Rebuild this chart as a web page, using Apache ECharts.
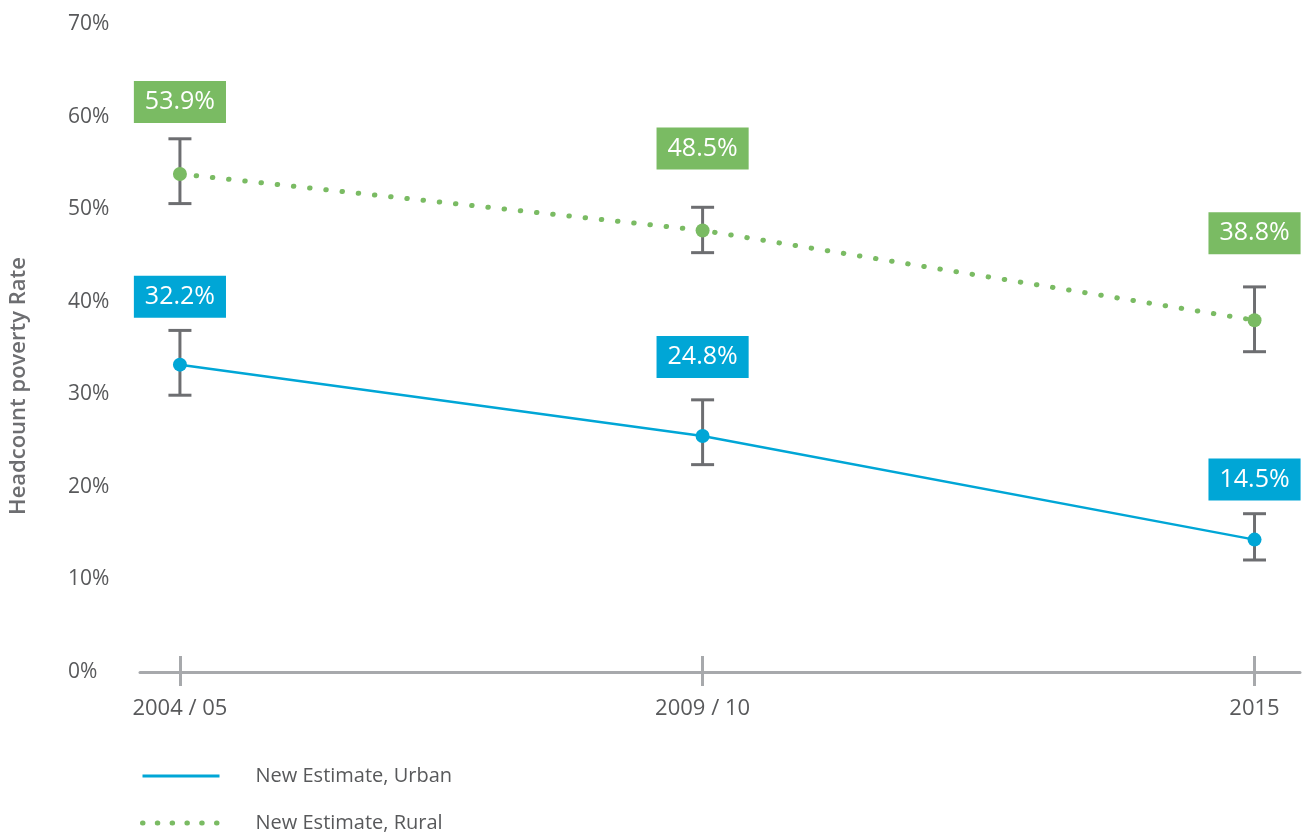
<!DOCTYPE html>
<html><head><meta charset="utf-8">
<script src="https://cdn.jsdelivr.net/npm/echarts@6/dist/echarts.min.js"></script>
<style>html,body{margin:0;padding:0;background:#fff}#c{width:1306px;height:832px}</style>
</head><body><div id="c"></div>
<script>
// ---- data ----
const periods = ['2004 / 05', '2009 / 10', '2015'];
const surveyTime = [2004.5, 2009.5, 2014.78];
const urbanRate = [33.2, 25.5, 14.3];
const urbanLow = [29.9, 22.4, 12.1];
const urbanHigh = [36.9, 29.4, 17.1];
const urbanLabel = ['32.2%', '24.8%', '14.5%'];
const ruralRate = [53.8, 47.7, 38.0];
const ruralLow = [50.6, 45.3, 34.6];
const ruralHigh = [57.6, 50.2, 41.6];
const ruralLabel = ['53.9%', '48.5%', '38.8%'];
const yTickStep = 10, yMax = 70;

// ---- styles ----
const BLUE = '#00a6d6', GREEN = '#7abb63', BAR = '#6d6e71', AXIS = '#a7a9ac', TXT = '#58595b';
const urbanLift = [68, 79, 60];
const ruralLift = [72, 82, 87];
const FONT = 'Open Sans';

function periodName(v) {
  let best = 0;
  surveyTime.forEach((t, i) => { if (Math.abs(t - v) < Math.abs(surveyTime[best] - v)) best = i; });
  return periods[best];
}

function errorBars(name, low, high) {
  return {
    type: 'custom', name, z: 3, silent: true,
    data: surveyTime.map((t, i) => [t, low[i], high[i]]),
    encode: { x: 0, y: [1, 2] },
    renderItem(params, api) {
      const x = api.value(0);
      const lo = api.coord([x, api.value(1)]);
      const hi = api.coord([x, api.value(2)]);
      const hw = 11.5;
      const style = { stroke: BAR, lineWidth: 3, fill: null };
      return { type: 'group', children: [
        { type: 'line', shape: { x1: lo[0], y1: lo[1], x2: hi[0], y2: hi[1] }, style },
        { type: 'line', shape: { x1: hi[0] - hw, y1: hi[1], x2: hi[0] + hw, y2: hi[1] }, style },
        { type: 'line', shape: { x1: lo[0] - hw, y1: lo[1], x2: lo[0] + hw, y2: lo[1] }, style }
      ]};
    }
  };
}

function points(name, rate, labels, lift, color) {
  return {
    type: 'scatter', name, z: 4, symbol: 'circle', symbolSize: 14,
    itemStyle: { color, opacity: 1 },
    data: surveyTime.map((t, i) => ({ value: [t, rate[i]], label: { offset: [0, -lift[i]] } })),
    label: {
      show: true, position: 'inside', formatter: p => labels[p.dataIndex],
      color: '#fff', backgroundColor: color, padding: [8, 11, 8, 11],
      fontFamily: FONT, fontSize: 25, lineHeight: 26
    },
    emphasis: { disabled: true }
  };
}

const xMin = 2004.118, xMax = 2015.215;
const tickStyle = { color: AXIS, width: 3 };
const hiddenSymbol = { color: 'rgba(0,0,0,0)', borderWidth: 0, opacity: 0 };

const option = {
  animation: false,
  backgroundColor: '#fff',
  grid: { left: 137, right: 6, top: 24, bottom: 160, containLabel: false },
  legend: {
    orient: 'vertical', left: 140, top: 766, width: 500, height: 120, padding: 0, itemGap: 27,
    itemWidth: 77, itemHeight: 14,
    data: [
      { name: 'New Estimate, Urban', itemStyle: hiddenSymbol,
        lineStyle: { color: BLUE, width: 3, opacity: 1 } },
      { name: 'New Estimate, Rural', itemStyle: hiddenSymbol,
        lineStyle: { color: GREEN, width: 5, type: [0.5, 14.3], cap: 'round', opacity: 1 } }
    ],
    textStyle: { color: TXT, fontFamily: FONT, fontSize: 20, lineHeight: 16, padding: [0, 0, 0, 31] },
    selectedMode: false
  },
  xAxis: [{
    type: 'value', min: xMin, max: xMax, position: 'bottom',
    axisLine: { show: true, onZero: false, lineStyle: tickStyle },
    axisTick: { show: true, length: 14, inside: false, customValues: surveyTime, lineStyle: tickStyle },
    axisLabel: { customValues: surveyTime, formatter: v => periodName(v), margin: 26,
      fontFamily: FONT, fontSize: 22, color: TXT },
    splitLine: { show: false }
  }, {
    type: 'value', min: xMin, max: xMax, position: 'bottom',
    axisLine: { show: false, onZero: false },
    axisTick: { show: true, length: 16, inside: true, customValues: surveyTime, lineStyle: tickStyle },
    axisLabel: { show: false },
    splitLine: { show: false }
  }],
  yAxis: {
    type: 'value', min: 0, max: yMax, interval: yTickStep,
    axisLine: { show: false }, axisTick: { show: false }, splitLine: { show: false },
    axisLabel: { formatter: '{value}%', align: 'left', margin: 72, fontFamily: FONT, fontSize: 21, color: TXT },
    name: 'Headcount poverty Rate', nameLocation: 'middle', nameGap: 110, nameRotate: 90,
    nameTextStyle: { fontFamily: FONT, fontWeight: 600, fontSize: 22, color: '#6d6e71', padding: [0, 76, 0, 0] }
  },
  series: [
    { type: 'line', name: 'New Estimate, Urban', z: 2, symbol: 'none',
      data: surveyTime.map((t, i) => [t, urbanRate[i]]),
      lineStyle: { color: BLUE, width: 2.5 }, itemStyle: { color: BLUE } },
    { type: 'line', name: 'New Estimate, Rural', z: 2, symbol: 'none',
      data: surveyTime.map((t, i) => [t, ruralRate[i]]),
      lineStyle: { color: GREEN, width: 5, type: [0.5, 15.8], cap: 'round' }, itemStyle: { color: GREEN } },
    errorBars('urbanErr', urbanLow, urbanHigh),
    errorBars('ruralErr', ruralLow, ruralHigh),
    points('urbanPts', urbanRate, urbanLabel, urbanLift, BLUE),
    points('ruralPts', ruralRate, ruralLabel, ruralLift, GREEN)
  ]
};
echarts.init(document.getElementById('c')).setOption(option);
</script></body></html>
